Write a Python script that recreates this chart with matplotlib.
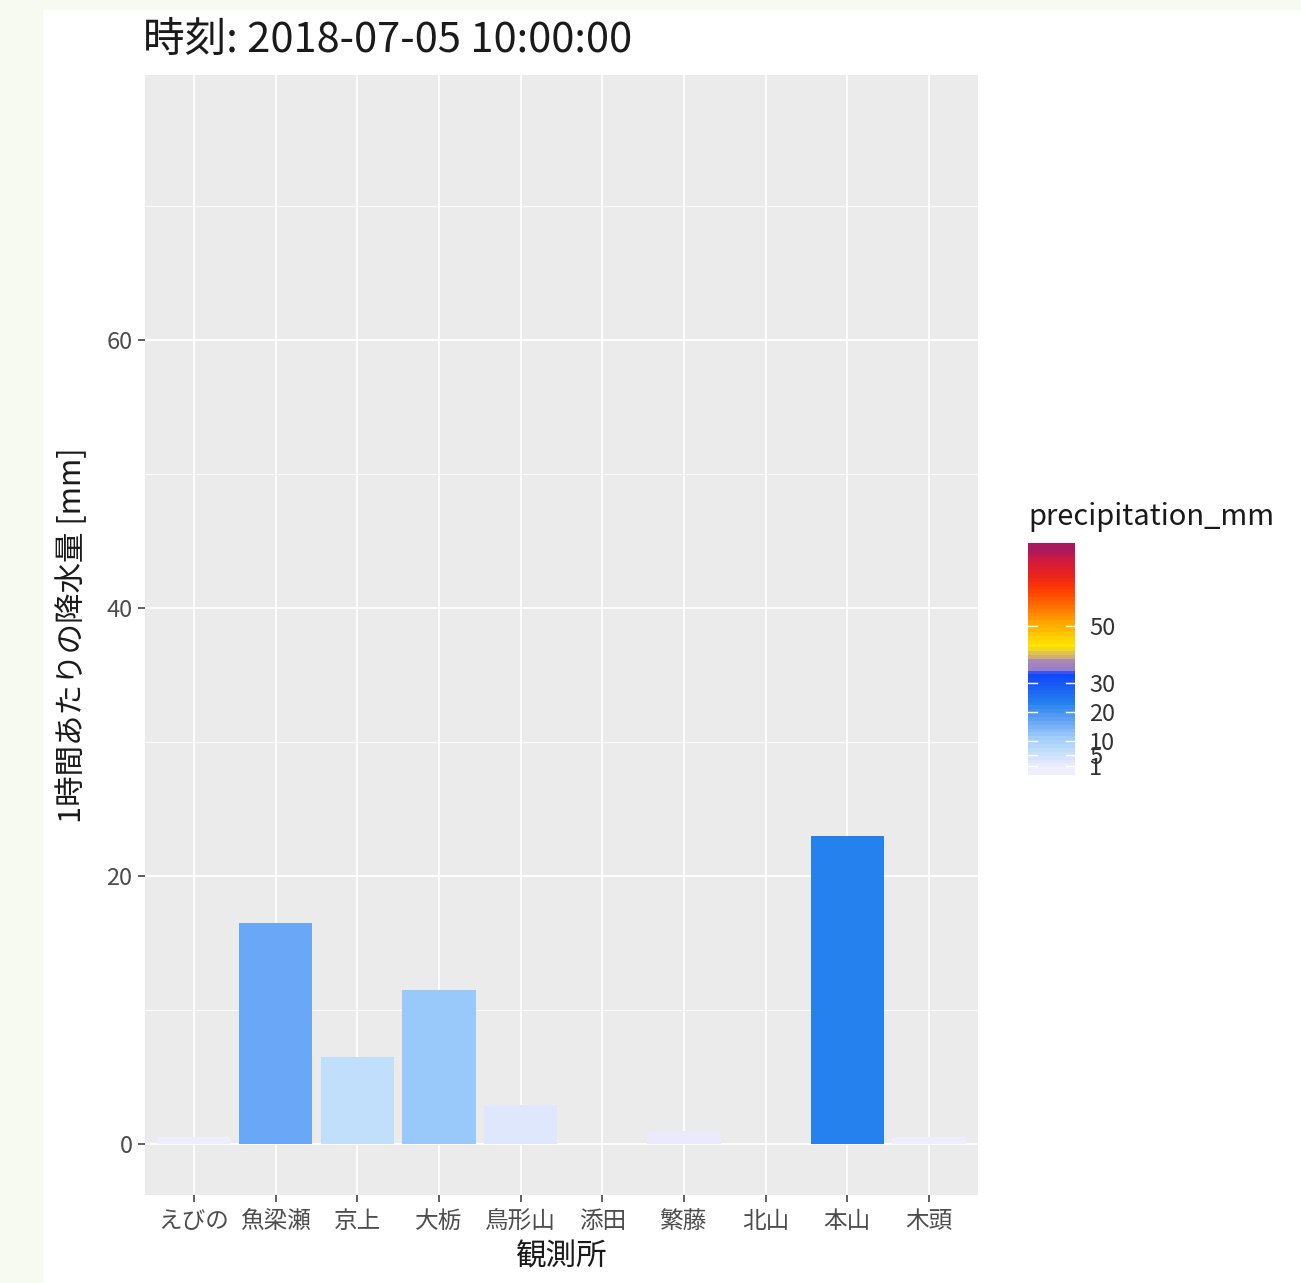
import numpy as np
import matplotlib
matplotlib.use("Agg")
import matplotlib.pyplot as plt
from matplotlib.colors import LinearSegmentedColormap, Normalize
from matplotlib.patches import Rectangle

plt.rcParams['font.family'] = ['Noto Sans CJK JP', 'DejaVu Sans']

# data
stations = ['えびの', '魚梁瀬', '京上', '大栃', '鳥形山', '添田', '繁藤', '北山', '本山', '木頭']
precip = [0.5, 16.5, 6.5, 11.5, 2.9, 0.0, 1.0, 0.0, 23.0, 0.5]
title = '時刻: 2018-07-05 10:00:00'
cbar_ticks = [1, 5, 10, 20, 30, 50]
fill_limits = (0, 77)

# colour scale
cmap_vals = [0, 1, 3, 6.5, 11.5, 16.5, 23, 29, 33.5, 34.5, 37.5, 39.5, 43, 47, 52, 57, 63, 68, 73, 77]
cmap_cols = ['#EEEEFC', '#EAEAFC', '#DCE6FC', '#C0DEFB', '#99C9FA', '#68A6F6', '#2481EE',
             '#1A5CF5', '#0A44FF', '#9A7CCC', '#A484BC', '#D4B46C', '#FFE800', '#FFC800',
             '#FF9E00', '#FF7000', '#FF3A00', '#E8221E', '#D01A40', '#A8195E']
lo, hi = fill_limits
cmap = LinearSegmentedColormap.from_list(
    'rain', [((v - lo) / (hi - lo), c) for v, c in zip(cmap_vals, cmap_cols)])
norm = Normalize(lo, hi)

W, H = 1301, 1283
fig = plt.figure(figsize=(W / 100, H / 100), dpi=100)
fig.patch.set_facecolor('white')
# page background strips around the image
bg = '#F7FAF0'
fig.patches.append(Rectangle((0, 0), 42 / W, 1, transform=fig.transFigure, color=bg, zorder=-10))
fig.patches.append(Rectangle((0, 1 - 9 / H), 1, 9 / H, transform=fig.transFigure, color=bg, zorder=-10))

ax = fig.add_axes([145 / W, 1 - 1195 / H, (978 - 145) / W, (1195 - 75) / H])
ax.set_facecolor('#EBEBEB')
for s in ax.spines.values():
    s.set_visible(False)

x = np.arange(1, len(stations) + 1)
ax.bar(x, precip, width=0.9, color=cmap(norm(np.array(precip))), zorder=3)

ax.set_xlim(0.4, len(stations) + 0.6)
ax.set_ylim(-3.8, 79.8)
ax.set_xticks(x)
ax.set_xticklabels(stations)
ax.set_yticks([0, 20, 40, 60])
ax.set_yticks([10, 30, 50, 70], minor=True)
ax.tick_params(axis='both', which='major', length=5, width=1.1, color='#333333',
               labelcolor='#4D4D4D', labelsize=17, pad=4)
ax.tick_params(axis='x', which='major', pad=6)
ax.tick_params(axis='y', which='minor', length=0)
ax.grid(True, which='major', color='white', linewidth=1.3, zorder=0)
ax.grid(True, which='minor', axis='y', color='white', linewidth=0.6, zorder=0)
ax.set_axisbelow(True)

fig.text(143 / W, 1 - 40 / H, title, fontsize=30, color='#1A1A1A', ha='left', va='center')
fig.text(72 / W, 1 - 635 / H, '1時間あたりの降水量 [mm]', fontsize=22, rotation=90,
         ha='center', va='center', color='#1A1A1A')
fig.text(561 / W, 1 - 1257 / H, '観測所', fontsize=22, ha='center', va='center', color='#1A1A1A')

# colourbar legend
fig.text(1028 / W, 1 - 517 / H, 'precipitation_mm', fontsize=21, ha='left', va='center',
         color='#1A1A1A')
cax = fig.add_axes([1028 / W, 1 - 775 / H, 47 / W, 232 / H])
edges = np.linspace(-2.0, 79.0, 61)
centers = np.clip((edges[:-1] + edges[1:]) / 2, lo, hi)
cax.pcolormesh([0, 1], edges, centers[:, None], cmap=cmap, norm=norm, shading='flat')
cax.set_xlim(0, 1)
cax.set_ylim(edges[0], edges[-1])
for t in cbar_ticks:
    cax.plot([0, 0.2], [t, t], color='white', lw=1)
    cax.plot([0.8, 1], [t, t], color='white', lw=1)
cax.set_xticks([])
cax.yaxis.tick_right()
cax.set_yticks(cbar_ticks)
cax.tick_params(axis='y', length=0, labelsize=17, labelcolor='#333333', pad=10)
for s in cax.spines.values():
    s.set_visible(False)

fig.savefig('out.png', dpi=100)
